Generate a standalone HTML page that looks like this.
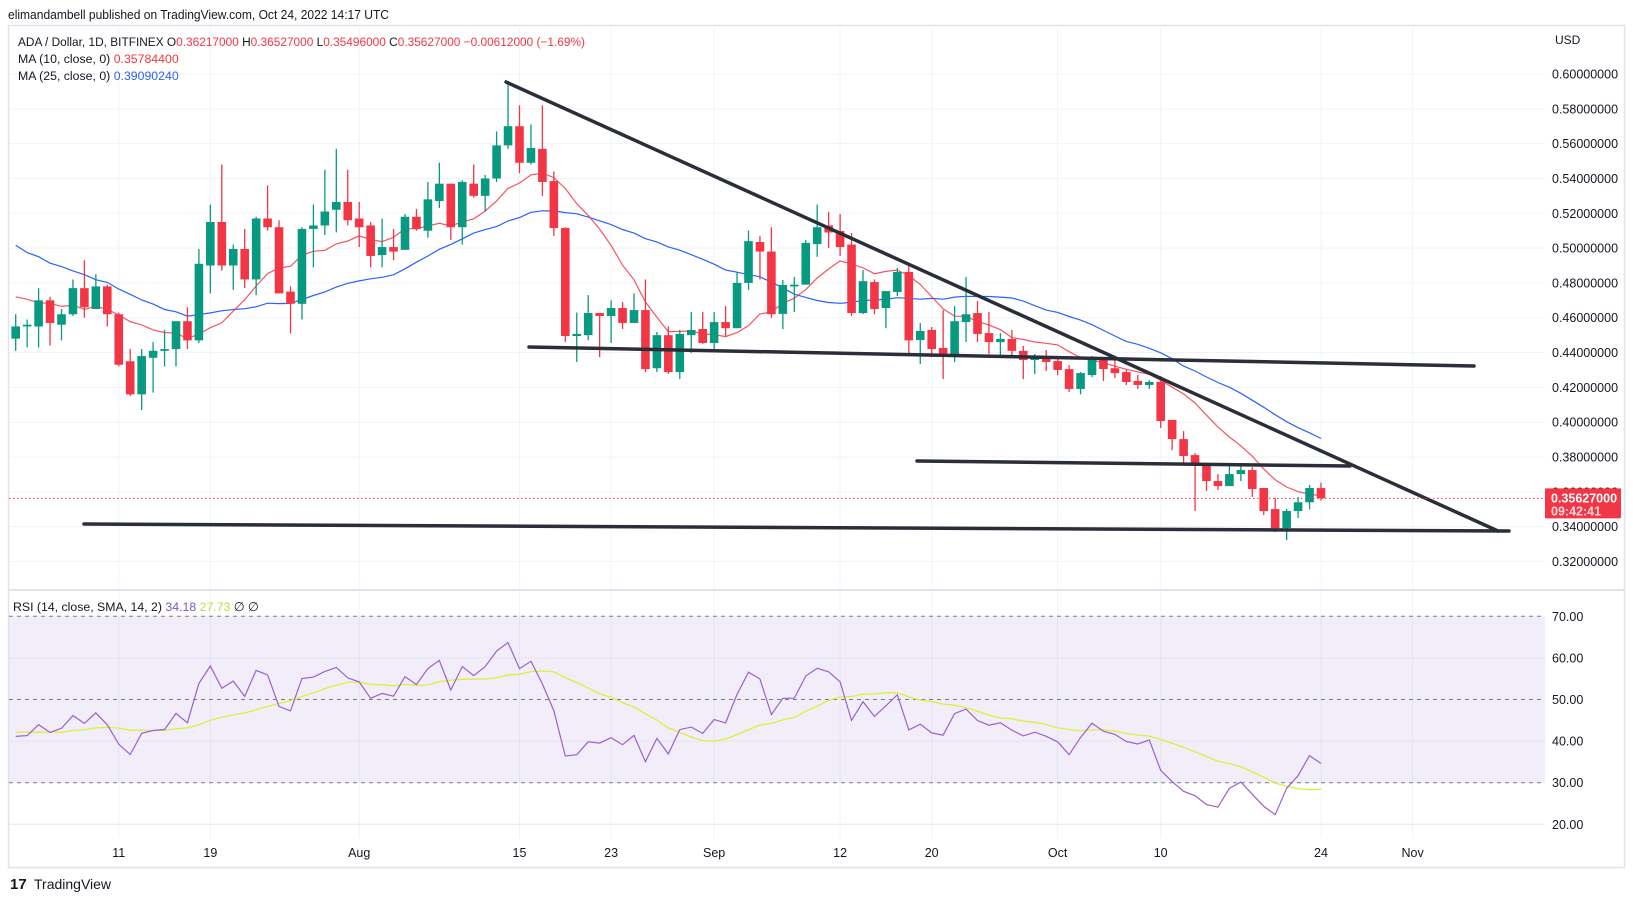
<!DOCTYPE html>
<html><head><meta charset="utf-8"><title>ADA / Dollar</title>
<style>
html,body{margin:0;padding:0;background:#fff;}
svg{display:block;font-family:"Liberation Sans",sans-serif;}
</style></head>
<body>
<svg id="chart" width="1633" height="901" viewBox="0 0 1633 901" xmlns="http://www.w3.org/2000/svg">
  <rect x="0" y="0" width="1633" height="901" fill="#fff"/>
  <text x="8" y="19" font-size="12.5" fill="#131722" textLength="381" lengthAdjust="spacingAndGlyphs">elimandambell published on TradingView.com, Oct 24, 2022 14:17 UTC</text>
  <rect x="8.5" y="25.5" width="1616" height="842" fill="none" stroke="#e0e3eb" stroke-width="1.5"/>
  <g id="grid"></g>
  <rect x="9" y="589" width="1615" height="2" fill="#e0e3eb"/>
  <g id="rsiPane"></g>
  <g id="mainPane"></g>
  <g id="drawings"></g>
  <g id="axes"></g>
  <g font-size="12.3">
    <text x="18" y="46" fill="#131722" textLength="567" lengthAdjust="spacingAndGlyphs">ADA / Dollar, 1D, BITFINEX  O<tspan fill="#f23645">0.36217000</tspan>  H<tspan fill="#f23645">0.36527000</tspan>  L<tspan fill="#f23645">0.35496000</tspan>  C<tspan fill="#f23645">0.35627000</tspan>  <tspan fill="#f23645">−0.00612000 (−1.69%)</tspan></text>
    <text x="18" y="63" fill="#131722">MA (10, close, 0)  <tspan fill="#f23645">0.35784400</tspan></text>
    <text x="18" y="80" fill="#131722">MA (25, close, 0)  <tspan fill="#2962ff">0.39090240</tspan></text>
    <text x="13" y="611" fill="#131722">RSI (14, close, SMA, 14, 2)  <tspan fill="#7e57c2">34.18</tspan>  <tspan fill="#c6d93a">27.73</tspan>  ∅  ∅</text>
  </g>
  <text x="1555" y="44" font-size="12" fill="#131722">USD</text>
  <g>
    <text x="10" y="889" font-size="15" font-weight="bold" fill="#131722">17</text>
    <text x="34" y="889" font-size="14" fill="#131722">TradingView</text>
  </g>
</svg>
<script>
const priorCloses=[0.56,0.53,0.55,0.51,0.54,0.52,0.55,0.50,0.53,0.49,0.52,0.50,0.52,0.49,0.51,0.47,0.49,0.46,0.48,0.47,0.49,0.46,0.48,0.465];
const opens=[0.448,0.455,0.455,0.470,0.456,0.462,0.477,0.465,0.478,0.462,
0.435,0.416,0.437,0.441,0.442,0.458,0.447,0.490,0.515,0.490,
0.4995,0.482,0.517,0.512,0.475,0.468,0.511,0.513,0.522,0.5265,
0.517,0.513,0.496,0.5006,0.499,0.518,0.510,0.527,0.537,0.512,
0.537,0.530,0.540,0.559,0.570,0.549,0.557,0.5385,0.5115,0.4495,
0.450,0.4627,0.461,0.4656,0.457,0.4644,0.431,0.450,0.4288,0.450,
0.4535,0.4455,0.4575,0.454,0.480,0.5035,0.498,0.4622,0.478,0.479,
0.5023,0.513,0.5098,0.502,0.4627,0.4805,0.4656,0.4748,0.4863,0.4472,
0.453,0.4426,0.438,0.4575,0.4627,0.4512,0.446,0.4478,0.441,0.4357,
0.438,0.4351,0.4305,0.4191,0.4271,0.4357,0.431,0.4288,0.4237,0.4214,
0.4231,0.4013,0.3903,0.3811,0.3766,0.3662,0.3633,0.3702,0.3725,0.3622,
0.3501,0.3392,0.349,0.354,0.36217];
const closes=[0.455,0.456,0.470,0.457,0.462,0.477,0.466,0.478,0.462,0.433,
0.416,0.438,0.441,0.442,0.458,0.447,0.491,0.515,0.490,0.4995,
0.482,0.517,0.512,0.474,0.468,0.511,0.513,0.521,0.5265,0.516,
0.512,0.4955,0.5006,0.498,0.518,0.511,0.528,0.537,0.512,0.538,
0.530,0.540,0.559,0.570,0.549,0.5575,0.538,0.5115,0.4495,0.4507,
0.4627,0.461,0.4656,0.457,0.4644,0.4305,0.450,0.4288,0.4507,0.453,
0.4455,0.4575,0.454,0.480,0.504,0.498,0.462,0.4788,0.479,0.503,
0.512,0.509,0.5006,0.4627,0.481,0.465,0.4753,0.4863,0.447,0.4524,
0.442,0.4392,0.458,0.462,0.4507,0.446,0.4478,0.441,0.4357,0.438,
0.4346,0.430,0.4191,0.4282,0.4363,0.4305,0.4282,0.4231,0.4214,0.4231,
0.4007,0.3903,0.3806,0.376,0.3662,0.3633,0.3702,0.3725,0.3616,0.349,
0.3392,0.349,0.354,0.3622,0.35627];
const highs=[0.462,0.459,0.477,0.472,0.465,0.482,0.493,0.485,0.479,0.463,
0.442,0.442,0.446,0.453,0.458,0.466,0.4995,0.525,0.548,0.502,
0.511,0.518,0.536,0.516,0.478,0.512,0.525,0.545,0.557,0.545,
0.5265,0.515,0.517,0.511,0.5196,0.5225,0.538,0.549,0.537,0.539,
0.548,0.542,0.567,0.595,0.582,0.571,0.582,0.544,0.512,0.463,
0.473,0.4627,0.470,0.469,0.474,0.482,0.4518,0.455,0.453,0.4633,
0.4633,0.4633,0.4667,0.4863,0.510,0.507,0.512,0.4817,0.4834,0.5046,
0.525,0.5207,0.5196,0.5087,0.4874,0.482,0.4753,0.4886,0.490,0.457,
0.4547,0.4644,0.4667,0.4834,0.4696,0.4633,0.4512,0.453,0.4438,0.4392,
0.4415,0.4369,0.4328,0.4288,0.438,0.4374,0.4374,0.430,0.4271,0.4242,
0.4265,0.4013,0.3949,0.3823,0.3766,0.3702,0.3748,0.376,0.3742,0.3622,
0.3564,0.3501,0.357,0.364,0.36527];
const lows=[0.441,0.443,0.443,0.444,0.447,0.461,0.460,0.465,0.455,0.432,
0.415,0.407,0.417,0.432,0.432,0.442,0.4455,0.474,0.487,0.476,
0.477,0.473,0.510,0.474,0.451,0.459,0.489,0.5075,0.509,0.513,
0.5006,0.489,0.489,0.493,0.499,0.510,0.506,0.523,0.5046,0.502,
0.529,0.521,0.538,0.557,0.543,0.548,0.530,0.507,0.446,0.4346,
0.447,0.4374,0.4455,0.4535,0.457,0.4288,0.4288,0.4277,0.4248,0.4397,
0.445,0.441,0.449,0.454,0.476,0.482,0.460,0.4535,0.4633,0.479,
0.495,0.500,0.4955,0.461,0.4621,0.462,0.454,0.4725,0.4392,0.4334,
0.4374,0.4248,0.4346,0.4461,0.446,0.4392,0.4369,0.4374,0.4248,0.4277,
0.4294,0.4271,0.4173,0.416,0.4259,0.4237,0.4254,0.4214,0.4191,0.4191,
0.3967,0.384,0.3754,0.349,0.3605,0.361,0.3633,0.3662,0.357,0.3467,
0.3369,0.3323,0.345,0.350,0.35496];
const priceTicks=[0.60,0.58,0.56,0.54,0.52,0.50,0.48,0.46,0.44,0.42,0.40,0.38,0.36,0.34,0.32];
const rsiTicks=[70,60,50,40,30,20];
const dateLabels=['11','19','Aug','15','23','Sep','12','20','Oct','10','24','Nov'];
const dateDays=[0,8,21,35,43,52,63,71,82,91,105,113];
const lastPrice=0.35627;

const NS='http://www.w3.org/2000/svg';
const FIRST=-9, X0=118.75, DX=11.45, PL=9, PR=1545;
function xDay(d){return X0+d*DX;}
function xOf(i){return xDay(i+FIRST);}
function yP(p){return 74+(0.6-p)*1741;}
function yR(r){return 616.3+(70-r)*4.16;}
function mk(tag,attrs,parent){const e=document.createElementNS(NS,tag);for(const k in attrs)e.setAttribute(k,attrs[k]);parent.appendChild(e);return e;}

const grid=document.getElementById('grid');
const main=document.getElementById('mainPane');
const rsiG=document.getElementById('rsiPane');
const axes=document.getElementById('axes');
const draw=document.getElementById('drawings');

priceTicks.forEach(p=>{
  const l=mk('line',{x1:PL,x2:PR,y1:yP(p),y2:yP(p),stroke:'#f0f3fa','stroke-width':1},grid);
  
  
  const t=mk('text',{x:1552,y:yP(p)+4.5,'font-size':12.5,fill:'#131722'},axes);
  t.textContent=p.toFixed(8);
  
  
});
dateDays.forEach((d,k)=>{
  const l=mk('line',{x1:xDay(d),x2:xDay(d),y1:27,y2:588,stroke:'#f0f3fa','stroke-width':1},grid);
  
  
  const l2=mk('line',{x1:xDay(d),x2:xDay(d),y1:591,y2:838,stroke:'#f0f3fa','stroke-width':1},grid);
  
  
  const t=mk('text',{x:xDay(d),y:857,'font-size':12.5,fill:'#131722','text-anchor':'middle'},axes);
  t.textContent=dateLabels[k];
  
  
});

const band=mk('rect',{x:PL,y:yR(70),width:PR-PL,height:yR(30)-yR(70),fill:'#7e57c2','fill-opacity':0.1},rsiG);


rsiTicks.forEach(r=>{
  const dashed=(r===70||r===50||r===30);
  const l=mk('line',{x1:PL,x2:PR,y1:yR(r),y2:yR(r),stroke:dashed?'#787b86':'#e6e3ee','stroke-width':1,'stroke-dasharray':dashed?'4 4':'none'},rsiG);
  
  
  const t=mk('text',{x:1552,y:yR(r)+4.5,'font-size':12.5,fill:'#131722'},axes);
  t.textContent=r.toFixed(2);
  
  
});

const allC=priorCloses.concat(closes);
const P=priorCloses.length;
function sma(arr,n,idx){let s=0,c=0;for(let j=idx-n+1;j<=idx;j++){if(j>=0){s+=arr[j];c++;}}return s/c;}
function maPath(n){let d='';for(let i=0;i<closes.length;i++){const v=sma(allC,n,i+P);d+=(i?'L':'M')+xOf(i).toFixed(1)+' '+yP(v).toFixed(1);}return d;}
const ma25=mk('path',{d:maPath(25),fill:'none',stroke:'#2962ff','stroke-width':1.2},main);


const ma10=mk('path',{d:maPath(10),fill:'none',stroke:'#f23645','stroke-width':1.2,'stroke-opacity':0.85},main);



for(let i=0;i<closes.length;i++){
  const up=closes[i]>=opens[i];
  const col=up?'#089981':'#f23645';
  const x=xOf(i);
  const g=mk('g',{},main);
  
  
  mk('line',{x1:x,x2:x,y1:yP(highs[i]),y2:yP(lows[i]),stroke:col,'stroke-width':1.3},g);
  const yt=yP(Math.max(opens[i],closes[i])), yb=yP(Math.min(opens[i],closes[i]));
  mk('rect',{x:x-4.3,y:yt,width:8.6,height:Math.max(1.2,yb-yt),fill:col},g);
}

const rsiVals=[];
let ag=0,al=0;
for(let j=1;j<allC.length;j++){
  const ch=allC[j]-allC[j-1];
  const gn=Math.max(ch,0), ls=Math.max(-ch,0);
  if(j<=14){ag+=gn/14;al+=ls/14;}else{ag=(ag*13+gn)/14;al=(al*13+ls)/14;}
  rsiVals[j]=al===0?100:100-100/(1+ag/al);
}
let rd='',sd='';
for(let i=0;i<closes.length;i++){
  const j=i+P;
  rd+=(i?'L':'M')+xOf(i).toFixed(1)+' '+yR(rsiVals[j]).toFixed(1);
  let s=0,c=0;for(let k=j-13;k<=j;k++){if(rsiVals[k]!==undefined){s+=rsiVals[k];c++;}}
  sd+=(i?'L':'M')+xOf(i).toFixed(1)+' '+yR(s/c).toFixed(1);
}
const rsiSma=mk('path',{d:sd,fill:'none',stroke:'#dcef3c','stroke-width':1.3},rsiG);


const rsiLine=mk('path',{d:rd,fill:'none',stroke:'#9c5fd0','stroke-width':1.2},rsiG);



const tl=[[506,82,1498,531,'descending-trendline'],[529,347,1474,366,'upper-support-line'],[917,461,1350,466,'middle-support-line'],[84,524,1509,531,'lower-support-line']];
tl.forEach(a=>{
  const l=mk('line',{x1:a[0],y1:a[1],x2:a[2],y2:a[3],stroke:'#2a2e39','stroke-width':3.5,'stroke-linecap':'round'},draw);
  
  
});

const yl=yP(lastPrice);
const pl=mk('line',{x1:PL,x2:PR,y1:yl,y2:yl,stroke:'#f23645','stroke-width':1,'stroke-dasharray':'1.5 2.5'},axes);


const box=mk('rect',{x:1545,y:yl-10,width:76,height:30,fill:'#f23645',rx:1},axes);


const t1=mk('text',{x:1551,y:yl+4,'font-size':12.5,'font-weight':'bold',fill:'#fff'},axes);
t1.textContent=lastPrice.toFixed(8);


const t2=mk('text',{x:1551,y:yl+17,'font-size':12.5,'font-weight':'bold',fill:'#fcd8dc'},axes);
t2.textContent='09:42:41';


</script>
</body></html>
